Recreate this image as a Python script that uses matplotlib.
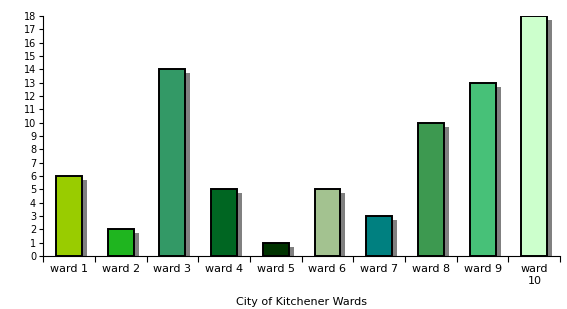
import matplotlib
matplotlib.use("Agg")
from matplotlib import pyplot as plt
from matplotlib.transforms import offset_copy

wards = ['ward 1', 'ward 2', 'ward 3', 'ward 4', 'ward 5',
         'ward 6', 'ward 7', 'ward 8', 'ward 9', 'ward\n10']
counts = [6, 2, 14, 5, 1, 5, 3, 10, 13, 18]
colors = ['#99cc00', '#1fb51f', '#339966', '#006622', '#003300',
          '#a3c290', '#008080', '#3d9950', '#47c178', '#ccffcc']

fig = plt.figure(figsize=(5.67, 3.09), dpi=100)
ax = fig.add_axes([0.076, 0.172, 0.912, 0.776])

x = list(range(len(wards)))

# drop shadow, shifted a few pixels right/down
shadow_tr = offset_copy(ax.transData, fig=fig, x=5, y=-4, units='dots')
ax.bar(x, counts, width=0.5, color='#808080', linewidth=0,
       transform=shadow_tr, zorder=1)
ax.bar(x, counts, width=0.5, color=colors, edgecolor='black',
       linewidth=1.4, zorder=2)

ax.set_xlim(-0.5, len(wards) - 0.5)
ax.set_ylim(0, 18)
ax.set_yticks(range(0, 19))
ax.set_xticks([i - 0.5 for i in range(len(wards) + 1)], minor=False)
ax.set_xticklabels([])
ax.set_xticks(x, minor=True)
ax.set_xticklabels(wards, minor=True, fontsize=8)
ax.tick_params(axis='x', which='minor', length=0, pad=6)
ax.tick_params(axis='x', which='major', length=4, direction='out')
ax.tick_params(axis='y', labelsize=7, length=3, pad=2)

for s in ['top', 'right']:
    ax.spines[s].set_visible(False)

ax.set_xlabel('City of Kitchener Wards', fontsize=8, labelpad=8)

fig.savefig('out.png', dpi=100)
